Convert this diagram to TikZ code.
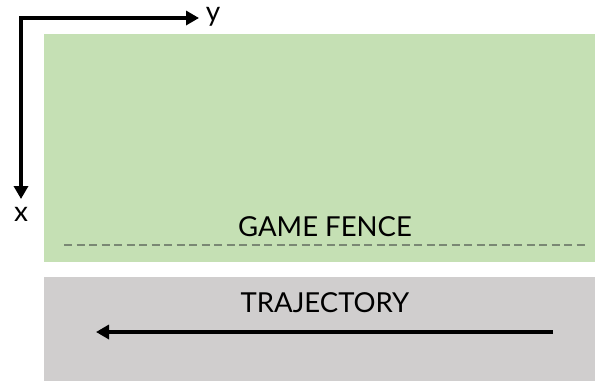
\documentclass[tikz,border=0pt]{standalone}
\usepackage{fontspec}
\setmainfont{Lato}
\usetikzlibrary{arrows.meta}
\definecolor{fencegreen}{HTML}{C5E0B4}
\definecolor{trackgray}{HTML}{D0CECE}
\definecolor{dashgray}{HTML}{7A8874}
\tikzset{
  axis/.style={line width=3.4pt, -{Triangle[length=13pt,width=14pt]}},
  caption/.style={font=\fontsize{27.5}{30}\selectfont, inner sep=0pt},
  axislabel/.style={font=\fontsize{28}{30}\selectfont, inner sep=0pt, anchor=base}
}
\begin{document}
\begin{tikzpicture}[x=1pt,y=-1pt]
  \useasboundingbox (0,0) rectangle (595,381);
  % zones
  \fill[fencegreen] (44,34) rectangle (595,262);
  \fill[trackgray] (44,277) rectangle (595,381);
  % axes
  \coordinate (o) at (21,18);
  \coordinate (yend) at (199,18);
  \coordinate (xend) at (21,199);
  \draw[axis] ([xshift=-1.7pt]o) -- (yend);
  \draw[axis] (o) -- (xend);
  \node[axislabel] (ylab) at (213,21) {y};
  \node[axislabel] (xlab) at (21,221) {x};
  % game fence
  \node[caption] (fence) at (325,227) {GAME FENCE};
  \coordinate (fl) at (64,245);
  \coordinate (fr) at (588,245);
  \draw[dashgray, line width=1.8pt, dash pattern=on 8pt off 4.5pt] (fl) -- (fr);
  % trajectory
  \node[caption] (traj) at (325,303) {TRAJECTORY};
  \coordinate (ts) at (553,332);
  \coordinate (te) at (96,332);
  \draw[axis] (ts) -- (te);
\end{tikzpicture}
\end{document}
